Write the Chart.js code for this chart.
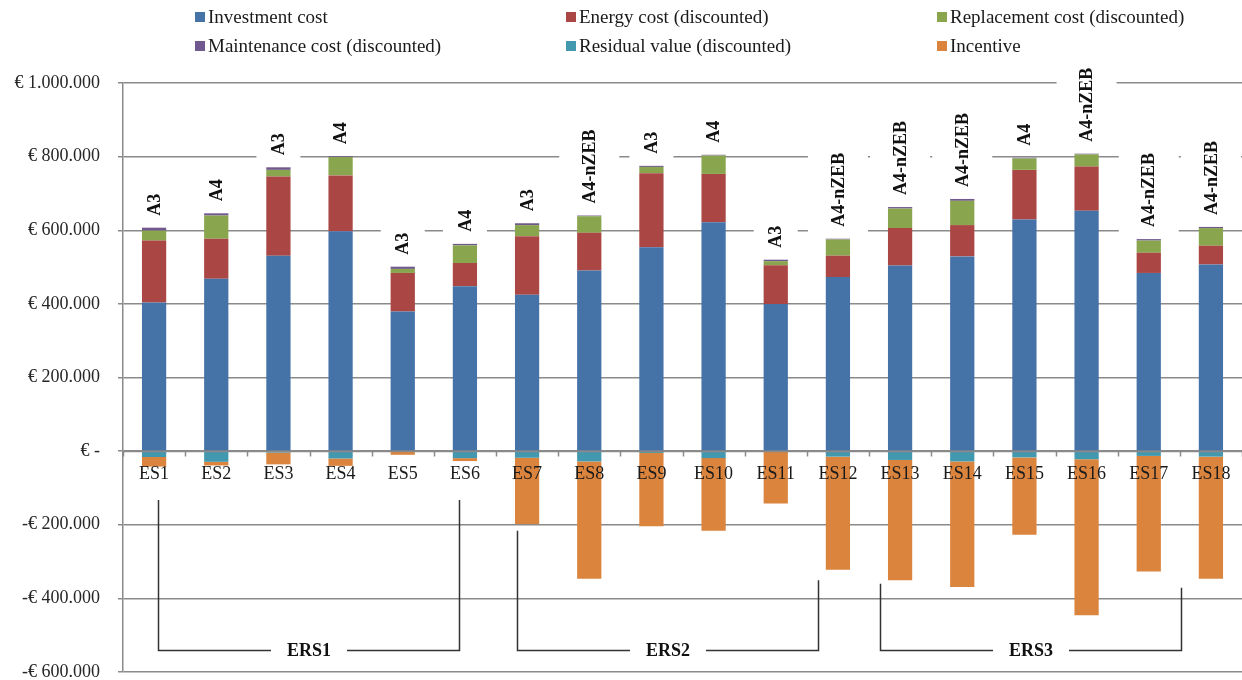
<!DOCTYPE html>
<html>
<head>
<meta charset="utf-8">
<script src="https://cdn.jsdelivr.net/npm/chart.js@4.4.1/dist/chart.umd.min.js"></script>
<style>
  html, body { margin: 0; padding: 0; background: #ffffff; }
  canvas { display: block; }
</style>
</head>
<body>
<canvas id="costChart" width="1242" height="680"></canvas>
<script>
// Energy scenarios ES1..ES18
const scenarios = ['ES1','ES2','ES3','ES4','ES5','ES6','ES7','ES8','ES9','ES10','ES11','ES12','ES13','ES14','ES15','ES16','ES17','ES18'];

// Building variant reached by each scenario
const variants = ['A3','A4','A3','A4','A3','A4','A3','A4-nZEB','A3','A4','A3','A4-nZEB','A4-nZEB','A4-nZEB','A4','A4-nZEB','A4-nZEB','A4-nZEB'];

// Cost components (EUR)
const investmentCost  = [404000, 468000, 531000, 597000, 379000, 448000, 425000, 491000, 554000, 622000, 400000, 473000, 504000, 529000, 629000, 653000, 484000, 507000];
const energyCost      = [168000, 109000, 215000, 152000, 105000, 63000, 159000, 102000, 201000, 131000, 105000, 58000, 102000, 85000, 135000, 120000, 55000, 51000];
const replacementCost = [27000, 63000, 18000, 50000, 11000, 48000, 30000, 45000, 17000, 50000, 11000, 44000, 53000, 66000, 31000, 33000, 33000, 48000];
const maintenanceCost = [8000, 6000, 7000, 2000, 6000, 4000, 5000, 2000, 3000, 2000, 4000, 2000, 4000, 5000, 2000, 2000, 4000, 3000];
const residualValue   = [-16000, -29000, -4000, -20000, -1000, -19000, -18000, -28000, -5000, -19000, -2000, -15000, -24000, -28000, -17000, -22000, -13000, -15000];
const incentive       = [-26000, -10000, -32000, -20000, -9000, -8000, -180000, -319000, -199000, -197000, -140000, -307000, -327000, -341000, -210000, -424000, -314000, -332000];

// Value axis ticks
const yTicks = [-600000, -400000, -200000, 0, 200000, 400000, 600000, 800000, 1000000];

// Renovation-scenario groups: label, first/last category (fractional index), stem tops and base (EUR)
const groupNames  = ['ERS1', 'ERS2', 'ERS3'];
const groupFrom   = [0.06, 5.83, 11.67];
const groupTo     = [4.9, 10.68, 16.52];
const groupTopL   = [-133000, -216000, -360000];
const groupTopR   = [-133000, -351000, -371000];
const groupBase   = -539000;

const SERIF = "'Liberation Serif', 'Times New Roman', serif";
const GRID = '#8a8a8a';

function euro(v) {
  if (v === 0) return '€ -';
  const s = Math.abs(v).toString().replace(/\B(?=(\d{3})+(?!\d))/g, '.');
  return (v < 0 ? '-€ ' : '€ ') + s;
}

function positiveTop(chart, i) {
  let s = 0;
  chart.data.datasets.forEach(ds => { const v = ds.data[i]; if (v > 0) s += v; });
  return s;
}

// Rotated variant labels above each stack, on a white box that breaks the gridlines
const variantLabels = {
  id: 'variantLabels',
  beforeDatasetsDraw(chart) {
    const { ctx, scales: { x, y } } = chart;
    ctx.save();
    ctx.font = `bold 18px ${SERIF}`;
    ctx.fillStyle = '#ffffff';
    variants.forEach((txt, i) => {
      const px = x.getPixelForValue(i);
      const base = y.getPixelForValue(positiveTop(chart, i)) - 12;
      const w = ctx.measureText(txt).width;
      const half = txt.length > 3 ? 30 : 22;
      ctx.fillRect(px - half, base - w - 6, half * 2, w + 12);
    });
    ctx.restore();
  },
  afterDatasetsDraw(chart) {
    const { ctx, scales: { x, y } } = chart;
    ctx.save();
    ctx.font = `bold 18px ${SERIF}`;
    ctx.fillStyle = '#111111';
    ctx.textAlign = 'left';
    ctx.textBaseline = 'middle';
    variants.forEach((txt, i) => {
      const px = x.getPixelForValue(i);
      const base = y.getPixelForValue(positiveTop(chart, i)) - 12;
      ctx.save();
      ctx.translate(px + 1, base);
      ctx.rotate(-Math.PI / 2);
      ctx.fillText(txt, 0, 0);
      ctx.restore();
    });
    ctx.restore();
  }
};

// Category axis drawn along the zero line, above the bars
const zeroAxis = {
  id: 'zeroAxis',
  afterDatasetsDraw(chart) {
    const { ctx, chartArea, scales: { x, y } } = chart;
    const y0 = Math.round(y.getPixelForValue(0)) + 0.5;
    const n = chart.data.labels.length;
    ctx.save();
    ctx.strokeStyle = GRID;
    ctx.lineWidth = 1.5;
    ctx.beginPath();
    ctx.moveTo(chartArea.left, y0);
    ctx.lineTo(chartArea.right, y0);
    for (let i = 0; i <= n; i++) {
      const bx = Math.round(x.getPixelForValue(i - 0.5)) + 0.5;
      ctx.moveTo(bx, y0);
      ctx.lineTo(bx, y0 + 5);
    }
    ctx.stroke();
    ctx.font = `18px ${SERIF}`;
    ctx.fillStyle = '#1a1a1a';
    ctx.textAlign = 'center';
    ctx.textBaseline = 'middle';
    chart.data.labels.forEach((lab, i) => {
      ctx.fillText(lab, x.getPixelForValue(i), y0 + 23);
    });
    ctx.restore();
  }
};

// Two-row legend across the top
const topLegend = {
  id: 'topLegend',
  afterDraw(chart) {
    const { ctx } = chart;
    const cols = [195, 566, 937];
    const rows = [17, 46];
    ctx.save();
    ctx.font = `19px ${SERIF}`;
    ctx.textAlign = 'left';
    ctx.textBaseline = 'middle';
    chart.data.datasets.forEach((ds, k) => {
      const cx = cols[k % 3];
      const cy = rows[Math.floor(k / 3)];
      ctx.fillStyle = ds.backgroundColor;
      ctx.fillRect(cx, cy - 5, 10, 10);
      ctx.fillStyle = '#1a1a1a';
      ctx.fillText(ds.label, cx + 13, cy + 1);
    });
    ctx.restore();
  }
};

// Brackets grouping the scenarios into ERS1..ERS3
const groupBrackets = {
  id: 'groupBrackets',
  afterDraw(chart) {
    const { ctx, scales: { x, y } } = chart;
    ctx.save();
    ctx.strokeStyle = '#333333';
    ctx.lineWidth = 1.5;
    ctx.font = `bold 18px ${SERIF}`;
    ctx.fillStyle = '#111111';
    ctx.textAlign = 'center';
    ctx.textBaseline = 'middle';
    const yb = Math.round(y.getPixelForValue(groupBase)) + 0.5;
    groupNames.forEach((name, g) => {
      const x1 = Math.round(x.getPixelForValue(groupFrom[g])) + 0.5;
      const x2 = Math.round(x.getPixelForValue(groupTo[g])) + 0.5;
      const mid = (x1 + x2) / 2;
      const gap = ctx.measureText(name).width / 2 + 16;
      ctx.beginPath();
      ctx.moveTo(x1, y.getPixelForValue(groupTopL[g]));
      ctx.lineTo(x1, yb);
      ctx.lineTo(mid - gap, yb);
      ctx.moveTo(mid + gap, yb);
      ctx.lineTo(x2, yb);
      ctx.lineTo(x2, y.getPixelForValue(groupTopR[g]));
      ctx.stroke();
      ctx.fillText(name, mid, yb + 1);
    });
    ctx.restore();
  }
};

new Chart(document.getElementById('costChart'), {
  type: 'bar',
  data: {
    labels: scenarios,
    datasets: [
      { label: 'Investment cost', data: investmentCost, backgroundColor: '#4572A7' },
      { label: 'Energy cost (discounted)', data: energyCost, backgroundColor: '#AA4643' },
      { label: 'Replacement cost (discounted)', data: replacementCost, backgroundColor: '#89A54E' },
      { label: 'Maintenance cost (discounted)', data: maintenanceCost, backgroundColor: '#71588F' },
      { label: 'Residual value (discounted)', data: residualValue, backgroundColor: '#4198AF' },
      { label: 'Incentive', data: incentive, backgroundColor: '#DB843D' }
    ]
  },
  options: {
    responsive: false,
    animation: false,
    devicePixelRatio: 1,
    layout: { padding: { top: 83, right: 0, bottom: 8, left: 0 } },
    datasets: { bar: { barPercentage: 0.39, categoryPercentage: 1.0, borderWidth: 0 } },
    plugins: { legend: { display: false }, tooltip: { enabled: false } },
    scales: {
      x: {
        stacked: true,
        display: false
      },
      y: {
        stacked: true,
        min: -600000,
        max: 1000000,
        afterFit(scale) {
          scale.width = 123;
          scale.paddingTop = 0;
          scale.paddingBottom = 0;
        },
        afterBuildTicks(scale) { scale.ticks = yTicks.map(v => ({ value: v })); },
        grid: { color: GRID, lineWidth: 1.5, tickLength: 5 },
        border: { display: true, color: GRID, width: 1.5 },
        ticks: { font: { family: SERIF, size: 18 }, color: '#262626', padding: 18, callback: v => euro(v) }
      }
    }
  },
  plugins: [variantLabels, zeroAxis, topLegend, groupBrackets]
});
</script>
</body>
</html>
